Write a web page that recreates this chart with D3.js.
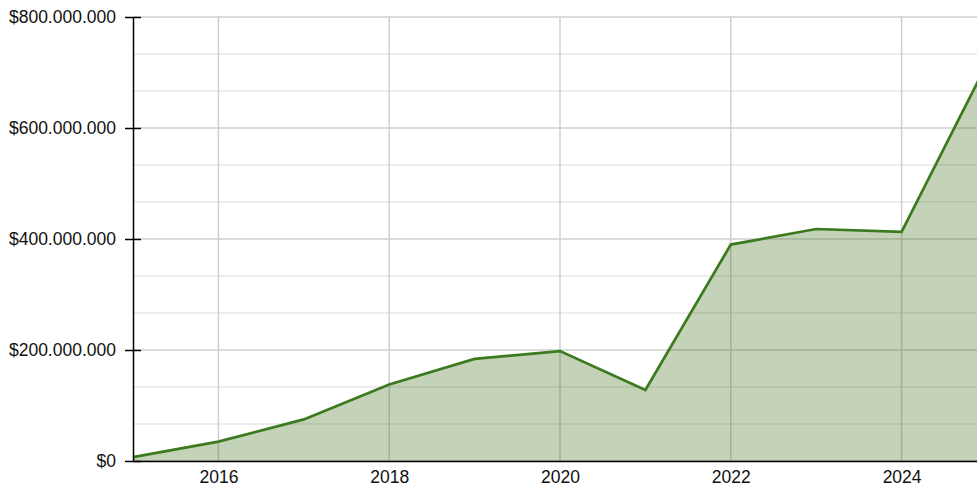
<!DOCTYPE html>
<html><head><meta charset="utf-8">
<script src="https://cdn.jsdelivr.net/npm/d3@7"></script>
<style>html,body{margin:0;padding:0;background:#fff;overflow:hidden}svg{display:block}</style>
</head><body>
<svg id="chart" width="977" height="493"></svg>
<script>
const years = [2015, 2016, 2017, 2018, 2019, 2020, 2021, 2022, 2023, 2024, 2025];
const values = [7e6, 35e6, 75e6, 138e6, 184e6, 198e6, 128e6, 390e6, 418e6, 413e6, 716e6];
const xTicks = [2016, 2018, 2020, 2022, 2024];
const yTicks = [0, 200e6, 400e6, 600e6, 800e6];
const yGrid = d3.range(0, 13).map(i => i * 800e6 / 12);

(function () {
const svg = d3.select("#chart");
const mLeft = 133, mTop = 17, mBottom = 461, mRight = 987;
const x = d3.scaleLinear().domain([2015, 2025]).range([mLeft, mRight]);
const y = d3.scaleLinear().domain([0, 800e6]).range([mBottom, mTop]);

const loc = d3.formatLocale({decimal: ",", thousands: ".", grouping: [3], currency: ["$", ""]});
const fmt = loc.format("$,.0f");

svg.append("g").selectAll("line").data(yGrid).join("line")
  .attr("x1", mLeft).attr("x2", 977)
  .attr("y1", d => y(d)).attr("y2", d => y(d))
  .attr("stroke", d => yTicks.some(t => Math.abs(t - d) < 1) ? "#cfcfcf" : "#e6e6e6")
  .attr("stroke-width", 1.5);
svg.append("g").selectAll("line").data(xTicks).join("line")
  .attr("x1", d => x(d)).attr("x2", d => x(d))
  .attr("y1", mTop).attr("y2", mBottom)
  .attr("stroke", "#cfcfcf").attr("stroke-width", 1.5);

const area = d3.area().x((d, i) => x(years[i])).y0(mBottom).y1(d => y(d));
const line = d3.line().x((d, i) => x(years[i])).y(d => y(d));
svg.append("path").datum(values).attr("d", area)
  .attr("fill", "rgb(60,110,20)").attr("fill-opacity", 0.3);
svg.append("path").datum(values).attr("d", line)
  .attr("fill", "none").attr("stroke", "#3b7a1f").attr("stroke-width", 2.7)
  .attr("stroke-linejoin", "miter");

const yAxis = svg.append("g").attr("transform", `translate(${mLeft},0)`)
  .call(d3.axisLeft(y).tickValues(yTicks).tickFormat(fmt).tickSize(0).tickPadding(17));
yAxis.select(".domain").attr("stroke", "#000").attr("stroke-width", 1.5);
yAxis.selectAll(".tick").append("line").attr("x1", -8).attr("x2", 8)
  .attr("stroke", "#000").attr("stroke-width", 1.5);
yAxis.selectAll("text").attr("font-family", "Liberation Sans, Arial, sans-serif")
  .attr("font-size", 17.5).attr("fill", "#111");

const xAxis = svg.append("g").attr("transform", `translate(0,${mBottom})`)
  .call(d3.axisBottom(x).tickValues(xTicks).tickFormat(d3.format("d")).tickSize(0).tickPadding(10));
xAxis.select(".domain").attr("stroke", "#000").attr("stroke-width", 1.5);
xAxis.selectAll("text").attr("font-family", "Liberation Sans, Arial, sans-serif")
  .attr("font-size", 17.5).attr("fill", "#111");
})();
</script>
</body></html>
